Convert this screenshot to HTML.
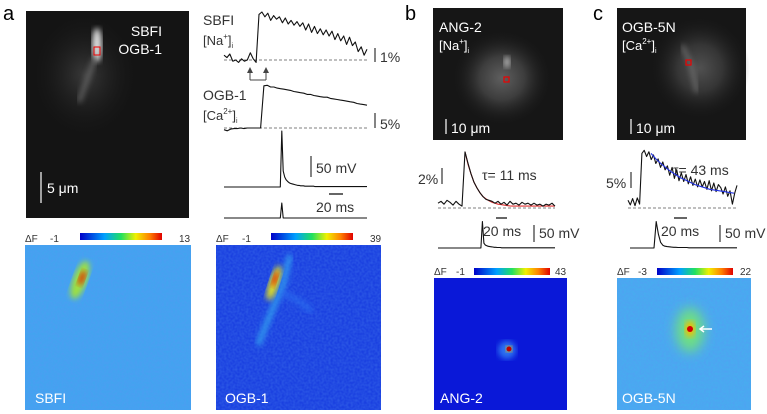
<!DOCTYPE html>
<html><head><meta charset="utf-8"><style>
html,body{margin:0;padding:0;background:#fff;}
svg{display:block;font-family:"Liberation Sans",Arial,sans-serif;}
</style></head><body>
<svg id="fig" width="767" height="414" viewBox="0 0 767 414">
<defs>
<linearGradient id="jet" x1="0" x2="1" y1="0" y2="0">
<stop offset="0" stop-color="#0000c8"/><stop offset="0.3" stop-color="#00a0ff"/><stop offset="0.5" stop-color="#20e060"/><stop offset="0.68" stop-color="#f0f000"/><stop offset="0.85" stop-color="#ff8000"/><stop offset="1" stop-color="#e00000"/></linearGradient>
<filter id="blur3"><feGaussianBlur stdDeviation="3"/></filter>
<filter id="blur6" x="-50%" y="-50%" width="200%" height="200%"><feGaussianBlur stdDeviation="6"/></filter>
<filter id="noise" x="0" y="0" width="100%" height="100%"><feTurbulence type="fractalNoise" baseFrequency="0.45" numOctaves="1" seed="3"/><feColorMatrix type="matrix" values="0 0 0 0 0.1  0 0 0 0 0.3  0 0 0 0 0.9  0 0 0 1.2 -0.3"/></filter>
<radialGradient id="glowA"><stop offset="0" stop-color="#3a3a3a"/><stop offset="1" stop-color="#141414" stop-opacity="0"/></radialGradient>
<radialGradient id="glowB"><stop offset="0" stop-color="#777"/><stop offset="0.45" stop-color="#4a4a4a"/><stop offset="1" stop-color="#181818" stop-opacity="0"/></radialGradient>
</defs>

<text x="3" y="20" font-size="20">a</text>
<text x="405" y="20" font-size="20">b</text>
<text x="593" y="20" font-size="20">c</text>

<g>
<rect x="26" y="11" width="163" height="207" fill="#141414"/>
<ellipse cx="85" cy="75" rx="55" ry="65" fill="url(#glowA)"/>
<ellipse cx="97" cy="45" rx="5" ry="17" fill="#ddd" filter="url(#blur3)"/>
<path d="M95 58 L84 88 L79 102" stroke="#666" stroke-width="4" fill="none" filter="url(#blur3)"/>
<rect x="94" y="47" width="6" height="8" fill="none" stroke="#e00" stroke-width="1"/>
<text x="162" y="36" fill="#fff" font-size="14" text-anchor="end">SBFI</text>
<text x="162" y="54" fill="#fff" font-size="14" text-anchor="end">OGB-1</text>
<line x1="41" y1="172" x2="41" y2="203" stroke="#fff" stroke-width="1.2"/>
<text x="47" y="193" fill="#fff" font-size="14">5 μm</text>
</g>

<g>
<rect x="433" y="8" width="130" height="132" fill="#161616"/>
<ellipse cx="502" cy="78" rx="50" ry="48" fill="url(#glowB)" opacity="0.75"/>
<ellipse cx="507" cy="62" rx="3" ry="6" fill="#bbb" filter="url(#blur3)"/>
<rect x="504" y="77" width="5" height="5" fill="none" stroke="#e00" stroke-width="1.2"/>
<text x="439" y="32" fill="#fff" font-size="14">ANG-2</text>
<text x="439" y="50" fill="#fff" font-size="13">[Na<tspan font-size="8" dy="-6">+</tspan><tspan dy="6">]</tspan><tspan font-size="7" dy="3">i</tspan></text>
<line x1="446" y1="119" x2="446" y2="134" stroke="#fff" stroke-width="1.2"/>
<text x="451" y="133" fill="#fff" font-size="14">10 μm</text>
</g>

<g>
<rect x="617" y="8" width="129" height="132" fill="#161616"/>
<ellipse cx="700" cy="68" rx="50" ry="52" fill="url(#glowB)" opacity="0.6"/>
<path d="M682 45 L691 65 L697 92" stroke="#777" stroke-width="3" fill="none" filter="url(#blur3)"/>
<rect x="686" y="60" width="5" height="5" fill="none" stroke="#e00" stroke-width="1.2"/>
<text x="622" y="32" fill="#fff" font-size="14">OGB-5N</text>
<text x="622" y="50" fill="#fff" font-size="13">[Ca<tspan font-size="8" dy="-6">2+</tspan><tspan dy="6">]</tspan><tspan font-size="7" dy="3">i</tspan></text>
<line x1="631" y1="119" x2="631" y2="134" stroke="#fff" stroke-width="1.2"/>
<text x="636" y="133" fill="#fff" font-size="14">10 μm</text>
</g>

<text x="203" y="25" font-size="14" fill="#333">SBFI</text>
<text x="203" y="45" font-size="13" fill="#333">[Na<tspan font-size="8" dy="-6">+</tspan><tspan dy="6">]</tspan><tspan font-size="7" dy="3">i</tspan></text>
<text x="203" y="100" font-size="14" fill="#333">OGB-1</text>
<text x="203" y="120" font-size="13" fill="#333">[Ca<tspan font-size="8" dy="-6">2+</tspan><tspan dy="6">]</tspan><tspan font-size="7" dy="3">i</tspan></text>
<line x1="375" y1="48" x2="375" y2="62" stroke="#333" stroke-width="1.2"/>
<text x="380" y="62" font-size="14" fill="#333">1%</text>
<line x1="375" y1="113" x2="375" y2="128" stroke="#333" stroke-width="1.2"/>
<text x="380" y="129" font-size="14" fill="#333">5%</text>
<path d="M250 80 L250 72 M266 80 L266 72 M250 80 L266 80" stroke="#444" stroke-width="1" fill="none"/>
<path d="M247 73 L250 67 L253 73 Z M263 73 L266 67 L269 73 Z" fill="#444"/>
<line x1="311" y1="156" x2="311" y2="177" stroke="#333" stroke-width="1.2"/>
<text x="316" y="173" font-size="14" fill="#333">50 mV</text>
<line x1="329" y1="194" x2="343" y2="194" stroke="#333" stroke-width="1.5"/>
<text x="316" y="212" font-size="14" fill="#333">20 ms</text>

<text x="418" y="184" font-size="14" fill="#333">2%</text>
<line x1="442" y1="168" x2="442" y2="184" stroke="#333" stroke-width="1.2"/>
<text x="482" y="180" font-size="14" fill="#333">τ= 11 ms</text>
<line x1="496" y1="218" x2="507" y2="218" stroke="#333" stroke-width="1.5"/>
<text x="483" y="236" font-size="14" fill="#333">20 ms</text>
<line x1="534" y1="225" x2="534" y2="242" stroke="#333" stroke-width="1.2"/>
<text x="539" y="238" font-size="14" fill="#333">50 mV</text>
<text x="606" y="188" font-size="14" fill="#333">5%</text>
<line x1="631" y1="172" x2="631" y2="188" stroke="#333" stroke-width="1.2"/>
<text x="673" y="175" font-size="14" fill="#333">τ= 43 ms</text>
<line x1="674" y1="218" x2="687" y2="218" stroke="#333" stroke-width="1.5"/>
<text x="661" y="236" font-size="14" fill="#333">20 ms</text>
<line x1="720" y1="225" x2="720" y2="242" stroke="#333" stroke-width="1.2"/>
<text x="725" y="238" font-size="14" fill="#333">50 mV</text>

<g>
<rect x="25" y="245" width="166" height="165" fill="#42a4f0"/>
<rect x="25" y="245" width="166" height="165" filter="url(#noise)" opacity="0.6"/>
<ellipse cx="80" cy="280" rx="7" ry="20" fill="#9ee040" filter="url(#blur3)" transform="rotate(20 80 280)"/>
<ellipse cx="82" cy="278" rx="3" ry="8" fill="#e03000" filter="url(#blur3)" transform="rotate(20 82 278)"/>
<text x="35" y="403" fill="#fff" font-size="14">SBFI</text>
</g>
<g>
<rect x="216" y="245" width="165" height="165" fill="#1a40e0"/>
<rect x="216" y="245" width="165" height="165" filter="url(#noise)" opacity="0.4"/>
<path d="M290 255 L283 285 L268 320 L258 345" stroke="#30a0f0" stroke-width="5" fill="none" filter="url(#blur3)"/>
<path d="M282 292 L300 302 L312 312" stroke="#2a70f0" stroke-width="4" fill="none" filter="url(#blur3)"/>
<ellipse cx="274" cy="283" rx="5" ry="18" fill="#e0e020" filter="url(#blur3)" transform="rotate(18 274 283)"/>
<ellipse cx="275" cy="279" rx="2.5" ry="8" fill="#e02000" filter="url(#blur3)" transform="rotate(18 275 279)"/>
<text x="225" y="403" fill="#fff" font-size="14">OGB-1</text>
</g>
<g>
<rect x="434" y="278" width="133" height="132" fill="#0a18d8"/>
<ellipse cx="507" cy="350" rx="9" ry="9" fill="#2a70f0" filter="url(#blur3)"/>
<ellipse cx="509" cy="349" rx="3" ry="3" fill="#ffd000" filter="url(#blur3)"/>
<circle cx="509" cy="349" r="2.5" fill="#c00000"/>
<text x="440" y="403" fill="#fff" font-size="14">ANG-2</text>
</g>
<g>
<rect x="617" y="278" width="134" height="132" fill="#48acf0"/>
<rect x="617" y="278" width="134" height="132" filter="url(#noise)" opacity="0.6"/>
<ellipse cx="690" cy="330" rx="14" ry="22" fill="#70e080" filter="url(#blur6)"/>
<ellipse cx="690" cy="329" rx="5" ry="8" fill="#f0c000" filter="url(#blur3)"/>
<circle cx="690" cy="329" r="3" fill="#d00000"/>
<path d="M712 329 L700 329 M704 326 L700 329 L704 332" stroke="#fff" stroke-width="1.5" fill="none"/>
<text x="622" y="403" fill="#fff" font-size="14">OGB-5N</text>
</g>

<g font-size="10" fill="#333">
<text x="25" y="242">ΔF</text><text x="50" y="242">-1</text><rect x="80" y="233" width="82" height="7" fill="url(#jet)"/><text x="179" y="242">13</text>
<text x="216" y="242">ΔF</text><text x="242" y="242">-1</text><rect x="271" y="233" width="82" height="7" fill="url(#jet)"/><text x="370" y="242">39</text>
<text x="434" y="275">ΔF</text><text x="456" y="275">-1</text><rect x="474" y="268" width="76" height="7" fill="url(#jet)"/><text x="555" y="275">43</text>
<text x="617" y="275">ΔF</text><text x="638" y="275">-3</text><rect x="657" y="268" width="76" height="7" fill="url(#jet)"/><text x="740" y="275">22</text>
</g>

<g id="traces"></g>
</svg>
<script>
const sbfiVals=[0.4,0.2,0.5,-0.1,0.0,-0.2,0.1,-0.1,0.0,0.6,0.1,-0.2,3.8,4.0,3.6,3.9,3.3,3.7,3.4,3.6,3.1,3.5,3.0,3.3,2.9,3.2,2.8,3.1,2.5,3.0,2.3,2.8,2.2,2.6,2.1,2.5,2.0,2.4,1.7,2.2,1.6,2.0,1.3,1.9,1.2,1.5,0.7,1.1,0.4,0.9];
const ogbVals=[-0.3,-0.5,-0.2,-0.1,-0.1,0.0,-0.1,0.0,0.0,0.0,0.0,0.0,7.4,7.5,7.2,7.2,7.0,6.9,6.8,6.7,6.6,6.4,6.3,6.2,6.1,5.9,5.9,5.7,5.6,5.5,5.4,5.4,5.2,5.1,5.0,4.9,4.8,4.7,4.6,4.5,4.3,4.2,4.1,4.0];
const vmA=[0,0,0,0,0,0,0,0,0,0,0,0,0,0,0,0,0,0,0,0,0,0,0,0,0,0,0,0,0,0,0,0,0,0,0,0,0,0,0,0,140,40,25,18,14,11,9,8,7,6,5,4,4,3,3,3,2,2,2,2,2,2,2,1,1,1,1,1,1,1,1,1,1,1,1,1,1,1,1,1,1,1,1,1,1,1,1,1,1,1,1,1,1,1,1,1,1,1,1,1];
const ang2Vals=[0.4,0.6,0.3,0.7,0.5,0.2,0.6,0.3,0.1,5.8,4.6,3.5,2.6,2.0,1.5,1.1,0.8,0.7,0.6,0.4,0.6,0.3,0.5,0.2,0.6,0.3,0.4,0.2,0.5,0.3,0.4,0.2,0.4,0.2,0.3,0.1,0.3,0.2,0.4,0.1];
const ang2Fit=[5.8,4.5,3.5,2.6,2.0,1.5,1.1,0.85,0.65,0.5,0.4,0.3,0.25,0.2,0.15,0.12,0.1,0.1,0.1,0.1,0.1,0.1,0.1,0.1,0.1,0.1,0.1,0.1,0.1,0.1,0.1];
const ogb5Vals=[1.0,0.4,1.2,0.3,1.3,0.5,7.0,7.4,6.6,7.2,6.2,6.8,5.7,6.3,5.2,5.9,4.9,5.4,4.2,5.2,3.8,4.9,3.5,4.5,3.4,4.3,3.1,4.0,2.9,3.7,2.7,3.6,2.7,3.4,2.4,3.5,2.2,3.2,2.1,3.0,2.6,1.8,2.7,1.5,2.2,0.5,1.9,2.9];
const ogb5Fit=[7.0,6.3,5.7,5.2,4.7,4.3,3.9,3.6,3.3,3.0,2.8,2.6,2.4,2.3,2.2,2.1,2.0,1.9];
const vmB=[0,0,0,0,0,0,0,0,0,0,0,0,0,0,0,0,0,0,0,0,0,0,0,0,0,0,0,0,0,0,110,20,12,9,7,6,5,4,3,3,2,2,2,1,1,1,1,1,1,1,1,1,1,1,1,1,1,1,1,1,1,1,1,1,1,1,1,1,1,1,1,1,1,1,1,1,1,1,1,1];
const vmC=[0,0,0,0,0,0,0,0,0,0,0,0,115,60,25,12,8,6,5,4,3,3,2,2,2,2,2,1,1,1,1,1,1,1,1,1,1,1,1,1,1,1,1,1,1,1,1,1,1,1];
const stimVals=[0,0,0,0,0,0,0,0,0,0,0,0,0,0,0,0,0,0,0,0,0,0,0,0,0,0,0,0,0,0,0,0,0,0,0,0,0,0,0,0,1,0,0,0,0,0,0,0,0,0,0,0,0,0,0,0,0,0,0,0,0,0,0,0,0,0,0,0,0,0,0,0,0,0,0,0,0,0,0,0,0,0,0,0,0,0,0,0,0,0,0,0,0,0,0,0,0,0,0,0];

const NS='http://www.w3.org/2000/svg';
const g=document.getElementById('traces');
function xScale(x0,x1,n){return i=>x0+(x1-x0)*i/(n-1);}
function yScale(base,pxPerUnit){return v=>base-v*pxPerUnit;}
function line(vals,sx,sy,color,w,name){
  const p=document.createElementNS(NS,'polyline');
  p.setAttribute('points',vals.map((v,i)=>sx(i).toFixed(1)+','+sy(v).toFixed(1)).join(' '));
  p.setAttribute('fill','none');p.setAttribute('stroke',color);p.setAttribute('stroke-width',w);
  p.setAttribute('stroke-linejoin','round');
  
  
  g.appendChild(p);
}
function dash(x0,x1,y,name){
  const l=document.createElementNS(NS,'line');
  l.setAttribute('x1',x0);l.setAttribute('x2',x1);l.setAttribute('y1',y);l.setAttribute('y2',y);
  l.setAttribute('stroke','#555');l.setAttribute('stroke-dasharray','3,2');l.setAttribute('stroke-width','0.8');
  
  
  g.appendChild(l);
}
dash(224,367,60,'baseline-sbfi');
line(sbfiVals,xScale(224,367,sbfiVals.length),yScale(60,12),'#111',1.1,'trace-sbfi');
dash(224,367,128,'baseline-ogb1');
line(ogbVals,xScale(224,367,ogbVals.length),yScale(128,5.7),'#111',1.1,'trace-ogb1');
line(vmA,xScale(224,367,vmA.length),yScale(187,0.4),'#111',1.1,'trace-vm-a');
line(stimVals,xScale(224,367,stimVals.length),yScale(218,15),'#111',1.1,'trace-stim-a');
dash(438,555,208,'baseline-ang2');
line(ang2Fit,xScale(465,555,ang2Fit.length),yScale(207,9.5),'#e03030',1.1,'fit-ang2');
line(ang2Vals,xScale(438,555,ang2Vals.length),yScale(207,9.5),'#111',1.1,'trace-ang2');
line(vmB,xScale(438,555,vmB.length),yScale(248,0.24),'#111',1.1,'trace-vm-b');
dash(628,737,208,'baseline-ogb5n');
line(ogb5Vals,xScale(628,737,ogb5Vals.length),yScale(208,7.8),'#111',1.1,'trace-ogb5n');
line(ogb5Fit,xScale(651,734,ogb5Fit.length),yScale(208,7.8),'#2030e0',1.1,'fit-ogb5n');
line(vmC,xScale(630,737,vmC.length),yScale(248,0.23),'#111',1.1,'trace-vm-c');
</script>
</body></html>
